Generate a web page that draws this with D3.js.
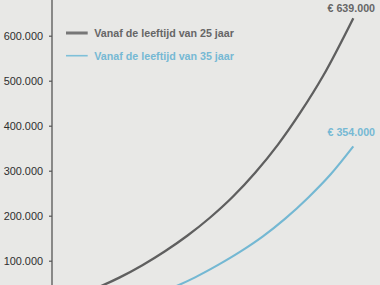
<!DOCTYPE html>
<html><head><meta charset="utf-8">
<script src="https://cdn.jsdelivr.net/npm/d3@7"></script>
<style>html,body{margin:0;padding:0;background:#e8e8e6;}svg{display:block;}</style>
</head><body>
<svg id="c" width="380" height="285"></svg>
<script>
const agesA = [25, 28, 31, 34, 37, 40, 43, 46, 49, 52, 55, 58, 61, 65];
const valuesA = [6000, 21000, 40000, 63000, 90000, 121000, 156000, 196000, 242000, 296000, 358000, 430000, 511000, 639000];
const agesB = [35, 38, 41, 44, 47, 50, 53, 56, 59, 62, 65];
const valuesB = [6000, 21000, 40000, 63000, 90000, 120000, 154000, 194000, 240000, 292000, 354000];
const yTicks = [100000, 200000, 300000, 400000, 500000, 600000];
const legendLabels = ["Vanaf de leeftijd van 25 jaar", "Vanaf de leeftijd van 35 jaar"];
const endLabels = ["€ 639.000", "€ 354.000"];
const colors = ["#5f5f5f", "#74b8d3"];
const legendColors = ["#777777", "#7ec0d9"];
const textColors = ["#666666", "#76b9d4"];

const svg = d3.select("#c");
const x = d3.scaleLinear().domain([25, 65]).range([52, 353.3]);
const y = d3.scaleLinear().domain([0, 600000]).range([305.7, 35.7]);

const fmt = v => d3.format(",")(v).replace(/,/g, ".");
const yAxis = d3.axisLeft(y).tickValues(yTicks).tickSize(3).tickPadding(6).tickFormat(fmt);
const ga = svg.append("g").attr("transform", "translate(52,0)").call(yAxis);
ga.select(".domain").remove();
ga.selectAll(".tick line").attr("stroke", "#555").attr("stroke-width", 1.2);
ga.selectAll(".tick text").attr("fill", "#2e2e2e").style("font-family", "Liberation Sans, Arial, sans-serif").style("font-size", "10.9px");
svg.append("line").attr("x1", 52).attr("x2", 52).attr("y1", 0).attr("y2", 285).attr("stroke", "#555").attr("stroke-width", 1.3);

const line = d3.line().x(d => x(d[0])).y(d => y(d[1])).curve(d3.curveMonotoneX);
const series = [d3.zip(agesA, valuesA), d3.zip(agesB, valuesB)];
series.forEach((s, i) => {
  svg.append("path").datum(s).attr("d", line).attr("fill", "none")
    .attr("stroke", colors[i]).attr("stroke-width", i === 0 ? 2.3 : 2.1);
});

// end labels
const lastA = series[0][series[0].length - 1], lastB = series[1][series[1].length - 1];
[[lastA, -6.2], [lastB, -10]].forEach((p, i) => {
  svg.append("text").attr("x", x(p[0][0]) - 2).attr("y", y(p[0][1]) + p[1])
    .attr("text-anchor", "middle").attr("fill", textColors[i])
    .style("font-family", "Liberation Sans, Arial, sans-serif").style("font-weight", "bold").style("font-size", "10.7px")
    .text(endLabels[i]);
});

// legend
const lg = [33, 55.7];
legendLabels.forEach((t, i) => {
  svg.append("line").attr("x1", 66).attr("x2", 87.7).attr("y1", lg[i]).attr("y2", lg[i])
    .attr("stroke", legendColors[i]).attr("stroke-width", i === 0 ? 3 : 1.6);
  svg.append("text").attr("x", 94.3).attr("y", lg[i] + 4).attr("fill", textColors[i])
    .style("font-family", "Liberation Sans, Arial, sans-serif").style("font-weight", "bold").style("font-size", "10.7px")
    .text(t);
});
</script>
</body></html>
